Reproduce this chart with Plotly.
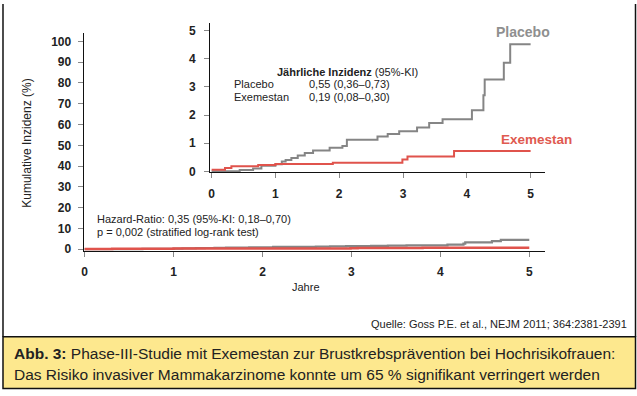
import plotly.graph_objects as go

# ---- data ----
placebo_years = [0, 0.44, 0.65, 0.78, 1.0, 1.1, 1.16, 1.25, 1.35, 1.46, 1.59, 1.85, 2.05, 2.12,
                 2.6, 2.76, 2.94, 3.22, 3.41, 3.62, 4.08, 4.26, 4.28, 4.58, 4.68, 5.0]
placebo_incidence = [0, 0.05, 0.1, 0.2, 0.25, 0.35, 0.4, 0.47, 0.56, 0.65, 0.74, 0.84, 0.9, 1.12,
                     1.24, 1.33, 1.42, 1.56, 1.72, 1.85, 2.17, 2.7, 3.26, 3.86, 4.51, 4.51]
exemestan_years = [0, 0.21, 0.31, 0.73, 1.0, 1.9, 2.99, 3.07, 3.8, 5.0]
exemestan_incidence = [0.06, 0.12, 0.18, 0.23, 0.26, 0.31, 0.42, 0.53, 0.72, 0.72]

main_y_ticks = [0, 10, 20, 30, 40, 50, 60, 70, 80, 90, 100]
inset_y_ticks = [0, 1, 2, 3, 4, 5]
x_ticks = [0, 1, 2, 3, 4, 5]

W, H = 637, 396
GRAY = "#858585"
RED = "#e0534c"
FONT = "Liberation Sans, Arial, sans-serif"

def px(x):
    return x / W

def py(y):
    return 1 - y / H

fig = go.Figure()

# main chart
fig.add_trace(go.Scatter(x=placebo_years, y=placebo_incidence, mode="lines", line_shape="hv",
                         line=dict(color=GRAY, width=2.2), xaxis="x", yaxis="y", hoverinfo="skip"))
fig.add_trace(go.Scatter(x=exemestan_years, y=exemestan_incidence, mode="lines", line_shape="hv",
                         line=dict(color=RED, width=2.5), xaxis="x", yaxis="y", hoverinfo="skip"))
# inset
fig.add_trace(go.Scatter(x=placebo_years, y=placebo_incidence, mode="lines", line_shape="hv",
                         line=dict(color=GRAY, width=2), xaxis="x2", yaxis="y2", hoverinfo="skip"))
fig.add_trace(go.Scatter(x=exemestan_years, y=exemestan_incidence, mode="lines", line_shape="hv",
                         line=dict(color=RED, width=2), xaxis="x2", yaxis="y2", hoverinfo="skip"))

axis_common = dict(showgrid=False, zeroline=False, showline=True, linecolor="#111", linewidth=1.3,
                   ticks="outside", ticklen=5, tickcolor="#888", tickwidth=1,
                   tickfont=dict(family=FONT, size=12, color="#222", weight="bold"))

fig.update_layout(
    width=W, height=H,
    margin=dict(l=0, r=0, t=0, b=0),
    paper_bgcolor="white", plot_bgcolor="rgba(0,0,0,0)",
    showlegend=False,
    xaxis=dict(domain=[px(82), px(545)], range=[-0.01, 5.18], anchor="y",
               tickvals=x_ticks, ticklabelstandoff=4, **axis_common),
    yaxis=dict(domain=[py(255), py(33)], range=[-0.95, 104.3], anchor="x",
               tickvals=main_y_ticks, ticklabelstandoff=4, **axis_common),
    xaxis2=dict(domain=[px(209), px(545)], range=[-0.02, 5.23], anchor="y2",
                tickvals=x_ticks, ticklabelstandoff=5, **axis_common),
    yaxis2=dict(domain=[py(175), py(23)], range=[-0.035, 5.28], anchor="x2",
                tickvals=inset_y_ticks, ticklabelstandoff=6, **axis_common),
)

ann = []
def text(x, y, s, size=11, color="#222", xanchor="left", family=FONT, **kw):
    ann.append(dict(x=px(x), y=py(y + 3), xref="paper", yref="paper", text=s, showarrow=False,
                    xanchor=xanchor, yanchor="middle", font=dict(family=family, size=size, color=color), **kw))

text(274, 70, "<b>Jährliche Inzidenz</b> (95%-KI)", size=11)
text(231, 82, "Placebo", size=11)
text(306, 82, "0,55 (0,36–0,73)", size=11)
text(231, 95, "Exemestan", size=11)
text(306, 95, "0,19 (0,08–0,30)", size=11)
text(494, 29, "<b>Placebo</b>", size=14, color="#8f8f8f")
text(499, 139, "<b>Exemestan</b>", size=13.5, color="#e05a50")
text(93, 219, "Hazard-Ratio: 0,35 (95%-KI: 0,18–0,70)", size=11)
text(93, 233, "p = 0,002 (stratified log-rank test)", size=11)
text(305, 288, "Jahre", size=11, xanchor="center")
text(25, 142, "Kumulative Inzidenz (%)", size=12, xanchor="center", textangle=-90)
text(629, 326, "Quelle: Goss P.E. et al., NEJM 2011; 364:2381-2391", size=11, xanchor="right")
text(10, 356, "<b>Abb. 3:</b> Phase-III-Studie mit Exemestan zur Brustkrebsprävention bei Hochrisikofrauen:",
     size=15.5)
text(10, 377, "Das Risiko invasiver Mammakarzinome konnte um 65 % signifikant verringert werden",
     size=15.5)
fig.update_layout(annotations=ann)

shapes = [
    dict(type="rect", xref="paper", yref="paper", x0=px(1), x1=px(635.5), y0=py(394.5), y1=py(342),
         fillcolor="#fde88e", line=dict(color="#111", width=1.5), layer="below"),
    dict(type="line", xref="paper", yref="paper", x0=px(1), x1=px(1), y0=py(342), y1=py(4),
         line=dict(color="#111", width=1.5)),
    dict(type="line", xref="paper", yref="paper", x0=px(635.5), x1=px(635.5), y0=py(342), y1=py(4),
         line=dict(color="#111", width=1.5)),
]
fig.update_layout(shapes=shapes)

fig.write_html("out.html", config={"displayModeBar": False},
               post_script="document.body.style.margin='0';document.body.style.overflow='hidden';")
